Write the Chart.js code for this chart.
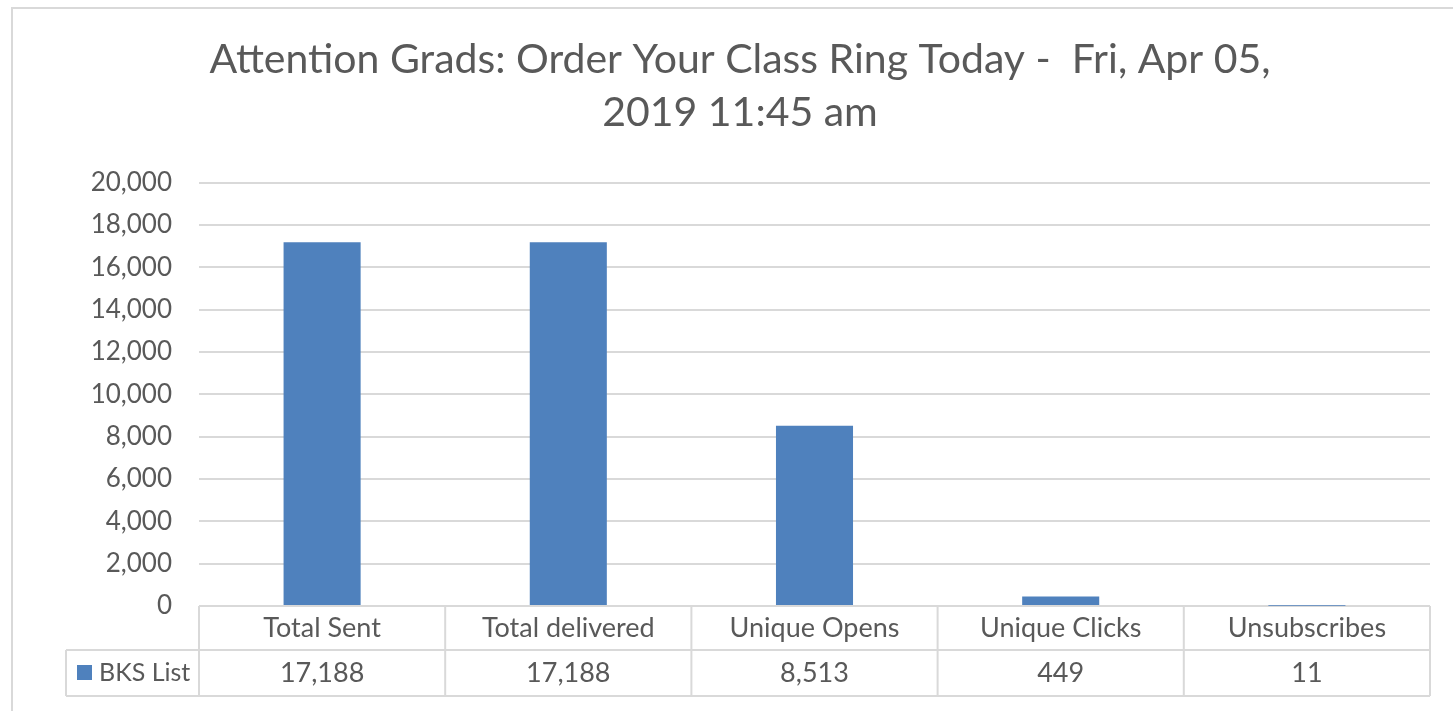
<!DOCTYPE html>
<html>
<head>
<meta charset="utf-8">
<script src="https://cdn.jsdelivr.net/npm/chart.js@4/dist/chart.umd.min.js"></script>
<style>
    html, body { margin: 0; padding: 0; background: #fff; }
    #contenedor { width: 1453px; height: 711px; position: relative; }
</style>
</head>
<body>
<div id="contenedor"><canvas id="grafica"></canvas></div>
<script>
const categorias = ["Total Sent", "Total delivered", "Unique Opens", "Unique Clicks", "Unsubscribes"];
const nombreSerie = "BKS List";
const valores = [17188, 17188, 8513, 449, 11];
const titulo = ["Attention Grads: Order Your Class Ring Today -  Fri, Apr 05,", "2019 11:45 am"];
const ejeMax = 20000;
const ejePaso = 2000;

const colorTexto = "#595959";
const colorLinea = "#d9d9d9";
const colorBarra = "#4f81bd";
const fuente = "Lato, 'Open Sans', sans-serif";

const formato = (v) => v.toLocaleString("en-US");

// tabla de datos debajo del eje, al estilo de Excel
const tablaDatos = {
    id: "tablaDatos",
    beforeDraw(chart) {
        const ctx = chart.ctx;
        ctx.save();
        ctx.fillStyle = "#fff";
        ctx.fillRect(0, 0, chart.width, chart.height);
        ctx.strokeStyle = colorLinea;
        ctx.lineWidth = 2;
        ctx.strokeRect(12, 8, chart.width + 20, chart.height + 20);
        ctx.restore();
    },
    afterDraw(chart) {
        const { ctx, chartArea } = chart;
        const n = categorias.length;
        const ancho = (chartArea.right - chartArea.left) / n;
        const arriba = chartArea.bottom;
        const medio = arriba + 44;
        const abajo = medio + 46;
        const izq = 66;

        ctx.save();
        ctx.strokeStyle = colorLinea;
        ctx.lineWidth = 2;
        ctx.beginPath();
        ctx.moveTo(izq, medio);
        ctx.lineTo(chartArea.right, medio);
        ctx.moveTo(izq, abajo);
        ctx.lineTo(chartArea.right, abajo);
        ctx.moveTo(izq, medio);
        ctx.lineTo(izq, abajo);
        for (let i = 0; i <= n; i++) {
            const x = chartArea.left + i * ancho;
            ctx.moveTo(x, arriba);
            ctx.lineTo(x, abajo);
        }
        ctx.stroke();

        ctx.fillStyle = colorTexto;
        ctx.font = "27px " + fuente;
        ctx.textAlign = "center";
        ctx.textBaseline = "middle";
        categorias.forEach((c, i) => {
            const x = chartArea.left + (i + 0.5) * ancho;
            ctx.fillText(c, x, (arriba + medio) / 2);
            ctx.fillText(formato(valores[i]), x, (medio + abajo) / 2);
        });

        ctx.fillStyle = colorBarra;
        ctx.fillRect(izq + 11, (medio + abajo) / 2 - 8, 15, 15);
        ctx.fillStyle = colorTexto;
        ctx.textAlign = "left";
        ctx.font = "25px " + fuente;
        ctx.fillText(nombreSerie, izq + 33, (medio + abajo) / 2);
        ctx.restore();
    },
};

const ctx = document.getElementById("grafica");
const grafica = new Chart(ctx, {
    type: "bar",
    data: {
        labels: categorias,
        datasets: [
            {
                label: nombreSerie,
                data: valores,
                backgroundColor: colorBarra,
                categoryPercentage: 1,
                barPercentage: 0.313,
            },
        ],
    },
    options: {
        responsive: true,
        maintainAspectRatio: false,
        animation: false,
        devicePixelRatio: 1,
        layout: {
            padding: { left: 50, right: 23, top: 0, bottom: 105 },
        },
        plugins: {
            legend: { display: false },
            tooltip: { enabled: false },
            title: {
                display: true,
                text: titulo,
                color: colorTexto,
                font: { family: fuente, size: 41, weight: "normal", lineHeight: 1.3 },
                padding: { top: 33, bottom: 43 },
            },
        },
        scales: {
            x: {
                display: false,
            },
            y: {
                min: 0,
                max: ejeMax,
                afterFit(scale) {
                    scale.width = 149;
                },
                border: { display: false },
                grid: { color: colorLinea, lineWidth: 2, drawTicks: false },
                ticks: {
                    stepSize: ejePaso,
                    padding: 27,
                    color: colorTexto,
                    font: { family: fuente, size: 26 },
                    callback: (v) => formato(v),
                },
            },
        },
    },
    plugins: [tablaDatos],
});
</script>
</body>
</html>
